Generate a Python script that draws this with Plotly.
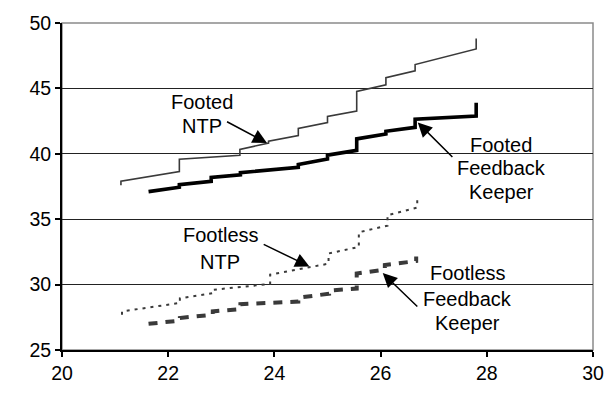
import plotly.graph_objects as go

# ---- data ----
footed_ntp_x = [21.11, 21.11, 22.21, 22.21, 23.35, 23.35, 23.89, 23.89, 24.45, 24.45,
                25.0, 25.0, 25.55, 25.55, 26.1, 26.1, 26.65, 26.65, 27.8, 27.8]
footed_ntp_y = [37.6, 37.9, 38.64, 39.59, 39.89, 40.34, 40.82, 40.97, 41.39, 41.94,
                42.39, 42.85, 43.27, 44.77, 45.27, 45.82, 46.34, 46.82, 48.02, 48.82]

footed_fk_x = [21.63, 22.21, 22.21, 22.81, 22.81, 23.36, 23.36, 24.45, 24.45, 25.0, 25.0,
               25.55, 25.55, 26.1, 26.1, 26.65, 26.65, 27.8, 27.8]
footed_fk_y = [37.11, 37.44, 37.64, 37.89, 38.19, 38.39, 38.56, 38.96, 39.19, 39.6, 39.9,
               40.26, 41.14, 41.52, 41.72, 42.02, 42.64, 42.89, 43.9]

footless_ntp_x = [21.13, 21.13, 22.22, 22.22, 22.84, 22.84, 23.92, 23.92, 25.02, 25.02,
                  25.59, 25.59, 26.13, 26.13, 26.69, 26.69]
footless_ntp_y = [27.7, 27.95, 28.6, 28.95, 29.35, 29.6, 30.05, 30.76, 31.6, 32.38,
                  32.88, 34.0, 34.51, 35.31, 35.89, 36.56]

footless_fk_x = [21.63, 22.22, 22.22, 22.84, 22.84, 23.36, 23.36, 24.45, 24.45, 25.03, 25.03,
                 25.55, 25.55, 26.08, 26.08, 26.67, 26.67]
footless_fk_y = [27.0, 27.25, 27.45, 27.7, 27.95, 28.13, 28.5, 28.7, 29.0, 29.3, 29.55,
                 29.7, 30.85, 31.15, 31.5, 31.8, 32.15]

x_ticks = [20, 22, 24, 26, 28, 30]
y_ticks = [25, 30, 35, 40, 45, 50]

FONT = "Liberation Sans, Arial, sans-serif"

fig = go.Figure()
fig.add_trace(go.Scatter(x=footed_ntp_x, y=footed_ntp_y, mode="lines",
                         line=dict(color="#3a3a3a", width=1.6), name="Footed NTP"))
fig.add_trace(go.Scatter(x=footed_fk_x, y=footed_fk_y, mode="lines",
                         line=dict(color="#000000", width=3.6), name="Footed Feedback Keeper"))
fig.add_trace(go.Scatter(x=footless_ntp_x, y=footless_ntp_y, mode="lines",
                         line=dict(color="#3a3a3a", width=2, dash="3px,5px"), name="Footless NTP"))
fig.add_trace(go.Scatter(x=footless_fk_x, y=footless_fk_y, mode="lines",
                         line=dict(color="#3a3a3a", width=4, dash="9px,8px"),
                         name="Footless Feedback Keeper"))

# text labels (one annotation per line to control line spacing)
labels = [
    ("Footed", 22.635, 43.99), ("NTP", 22.635, 42.12),
    ("Footed", 28.27, 40.69), ("Feedback", 28.27, 38.89), ("Keeper", 28.27, 37.09),
    ("Footless", 22.99, 33.78), ("NTP", 22.97, 31.76),
    ("Footless", 27.64, 30.86), ("Feedback", 27.64, 28.9), ("Keeper", 27.64, 27.03),
]
for t, x, y in labels:
    fig.add_annotation(x=x, y=y, text=t, showarrow=False, xref="x", yref="y",
                       font=dict(family=FONT, size=20, color="#000"),
                       xanchor="center", yanchor="middle")

# arrows: (tail x, tail y, head x, head y)
arrows = [
    (23.08, 42.51, 23.86, 40.82),
    (27.38, 39.64, 26.70, 42.39),
    (23.77, 33.13, 24.66, 31.38),
    (26.72, 28.21, 26.04, 30.88),
]
for tx, ty, hx, hy in arrows:
    fig.add_annotation(x=hx, y=hy, ax=tx, ay=ty, xref="x", yref="y", axref="x", ayref="y",
                       text="", showarrow=True, arrowhead=2, arrowsize=1.9,
                       arrowwidth=1.5, arrowcolor="#000")

# plot-area border (gray)
fig.add_shape(type="rect", xref="paper", yref="paper", x0=0, y0=0, x1=1, y1=1,
              line=dict(color="#8a8a8a", width=1.5), layer="below")

fig.update_layout(
    width=616, height=398, autosize=False,
    margin=dict(l=62, r=15, t=17, b=48),
    paper_bgcolor="white", plot_bgcolor="white",
    showlegend=False,
    font=dict(family=FONT, size=19.5, color="#000"),
)
fig.update_xaxes(range=[20, 30], tickvals=x_ticks, ticktext=[str(v) for v in x_ticks],
                 showgrid=False, zeroline=False, showline=True, linecolor="#000", linewidth=2,
                 ticks="outside", ticklen=5, tickwidth=1.5, tickcolor="#000",
                 tickfont=dict(family=FONT, size=19.5, color="#000"))
fig.update_yaxes(range=[25, 50], tickvals=y_ticks, ticktext=[str(v) for v in y_ticks],
                 showgrid=True, gridcolor="#222", gridwidth=1, zeroline=False,
                 showline=True, linecolor="#000", linewidth=2,
                 ticks="outside", ticklen=5, tickwidth=1.5, tickcolor="#000",
                 tickfont=dict(family=FONT, size=19.5, color="#000"))

fig.write_html("out.html")
